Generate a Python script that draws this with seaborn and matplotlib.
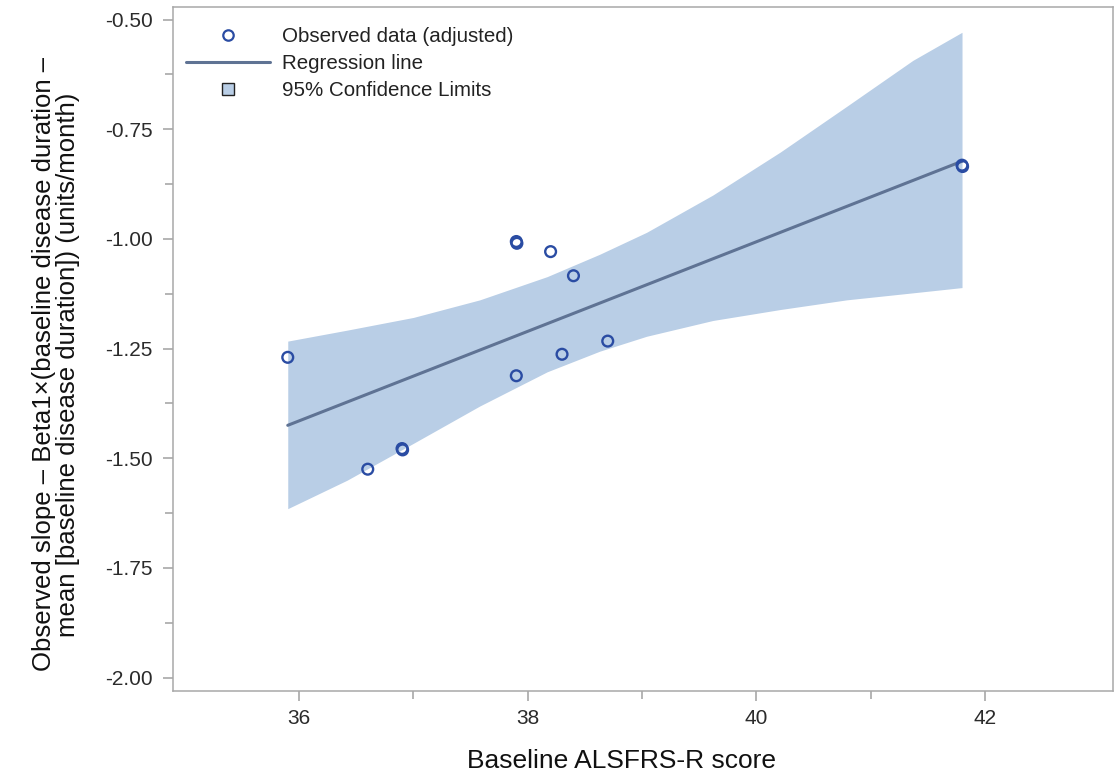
import numpy as np
import pandas as pd
import seaborn as sns
import matplotlib.pyplot as plt
from matplotlib.lines import Line2D
from matplotlib.ticker import FixedLocator, FormatStrFormatter

# --- data ---
obs_x = [35.9, 36.6, 36.9, 36.905, 37.9, 37.905, 37.9, 38.2, 38.3, 38.4, 38.7, 41.8, 41.805]
obs_y = [-1.270, -1.525, -1.478, -1.481, -1.006, -1.010, -1.312, -1.029, -1.263, -1.084, -1.233, -0.832, -0.835]

fit_x = [35.9, 41.8]
fit_y = [-1.425, -0.823]

band_x = [35.9, 36.42, 37.0, 37.58, 38.17, 38.63, 39.04, 39.62, 40.21, 40.79, 41.37, 41.8]
band_upper = [-1.233, -1.208, -1.179, -1.139, -1.086, -1.035, -0.985, -0.900, -0.802, -0.698, -0.593, -0.529]
band_lower = [-1.615, -1.550, -1.466, -1.381, -1.303, -1.256, -1.222, -1.186, -1.161, -1.139, -1.123, -1.111]

x_major = [36, 38, 40, 42]
x_minor = [37, 39, 41]
y_major = [-0.50, -0.75, -1.00, -1.25, -1.50, -1.75, -2.00]
y_minor = [-0.625, -0.875, -1.125, -1.375, -1.625, -1.875]

x_title = "Baseline ALSFRS-R score"
y_title = ("Observed slope \u2013 Beta1\u00d7(baseline disease duration \u2013\n"
           "mean [baseline disease duration]) (units/month)")
legend_labels = ["Observed data (adjusted)", "Regression line", "95% Confidence Limits"]

# --- colours ---
BAND = "#b9cee6"
LINE = "#5f7394"
MARK = "#2a4ca3"
AXC = "#a8a8a8"

sns.set_theme(style="white")
plt.rcParams['font.family'] = ['Liberation Sans', 'DejaVu Sans']
plt.rcParams['axes.unicode_minus'] = False

fig = plt.figure(figsize=(11.17, 7.74), dpi=100)
ax = fig.add_axes([0.1553, 0.1076, 0.8410, 0.8830])

obs = pd.DataFrame({"x": obs_x, "y": obs_y})
fit = pd.DataFrame({"x": fit_x, "y": fit_y})

ax.fill_between(band_x, band_lower, band_upper, color=BAND, linewidth=0, zorder=1)
sns.lineplot(data=fit, x="x", y="y", color=LINE, linewidth=2.2, ax=ax, zorder=2)
sns.scatterplot(data=obs, x="x", y="y", marker="o", s=60, facecolors="none",
                edgecolor=MARK, linewidth=1.7, ax=ax, zorder=3)

ax.set_xlim(34.9, 43.12)
ax.set_ylim(-2.03, -0.472)

ax.xaxis.set_major_locator(FixedLocator(x_major))
ax.xaxis.set_minor_locator(FixedLocator(x_minor))
ax.yaxis.set_major_locator(FixedLocator(y_major))
ax.yaxis.set_minor_locator(FixedLocator(y_minor))
ax.xaxis.set_major_formatter(FormatStrFormatter('%d'))
ax.yaxis.set_major_formatter(FormatStrFormatter('%.2f'))

ax.tick_params(axis='both', which='major', direction='out', length=7, width=1.2,
               color=AXC, labelcolor="#2b2b2b", labelsize=15, pad=6,
               bottom=True, left=True)
ax.tick_params(axis='y', which='major', pad=8)
ax.tick_params(axis='both', which='minor', direction='out', length=6, width=1.2,
               color=AXC, bottom=True, left=True)

for sp in ax.spines.values():
    sp.set_color(AXC)
    sp.set_linewidth(1.1)

ax.set_xlabel(x_title, fontsize=19, color="#111111")
ax.set_ylabel(y_title, fontsize=18.5, color="#111111", linespacing=1.0)
ax.xaxis.set_label_coords(0.4766, -0.086)
ax.yaxis.set_label_coords(-0.099, 0.4775)

handles = [
    Line2D([], [], marker="o", linestyle="none", markersize=7.5,
           markerfacecolor="none", markeredgecolor=MARK, markeredgewidth=1.6),
    Line2D([], [], color=LINE, linewidth=2.2),
    Line2D([], [], marker="s", linestyle="none", markersize=9,
           markerfacecolor=BAND, markeredgecolor="#222222", markeredgewidth=1.0),
]
leg = ax.legend(handles, legend_labels, loc="upper left", bbox_to_anchor=(0.0, 0.99),
                frameon=False, fontsize=14.8, handlelength=4.1, handleheight=0.7,
                handletextpad=0.55, labelspacing=0.4, borderaxespad=0.3,
                borderpad=0.32)
for t in leg.get_texts():
    t.set_color("#222222")

fig.savefig("out.png", dpi=100)
